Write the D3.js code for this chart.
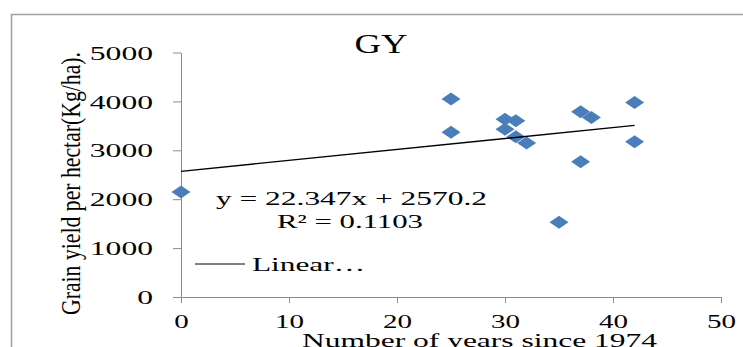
<!DOCTYPE html>
<html>
<head>
<meta charset="utf-8">
<script src="https://cdn.jsdelivr.net/npm/d3@7"></script>
<style>
  body { margin: 0; background: #fff; }
  text { font-family: "Liberation Serif", "Times New Roman", serif; fill: #000; }
</style>
</head>
<body>
<div id="chart"></div>
<script>
// Data
const years = [0, 25, 25, 30, 30, 31, 31, 32, 35, 37, 38, 37, 42, 42];
const yields = [2145, 4050, 3370, 3634, 3430, 3606, 3276, 3150, 1527, 3790, 3670, 2767, 3980, 3176];
const trendCoef = { slope: 22.347, intercept: 2570.2 };
const trendRange = [0, 42];
const xTicks = [0, 10, 20, 30, 40, 50];
const yTicks = [0, 1000, 2000, 3000, 4000, 5000];

const width = 743;
const height = 347;

const svg = d3.select("#chart")
    .append("svg")
    .attr("width", width)
    .attr("height", height);

// Outer frame (cropped on the right and bottom)
svg.append("rect")
    .attr("x", 11.5).attr("y", 14.5)
    .attr("width", 760).attr("height", 340)
    .attr("fill", "none")
    .attr("stroke", "#a0a0a0")
    .attr("stroke-width", 1.5);

const x = d3.scaleLinear().domain([0, 50]).range([181, 721]);
const y = d3.scaleLinear().domain([0, 5000]).range([297, 52.5]);

// Axes
const yAxis = svg.append("g")
    .attr("transform", "translate(181,0)")
    .call(d3.axisLeft(y).tickValues(yTicks).tickSize(8).tickSizeOuter(0).tickFormat(d3.format("d")));
yAxis.selectAll("text")
    .attr("x", -28)
    .attr("dy", "0.35em")
    .style("font-size", "19px")
    .attr("textLength", d => String(d).length * 15.8)
    .attr("lengthAdjust", "spacingAndGlyphs");

const xAxis = svg.append("g")
    .attr("transform", "translate(0,297)")
    .call(d3.axisBottom(x).tickValues(xTicks).tickSize(6).tickSizeOuter(0).tickFormat(d3.format("d")));
xAxis.selectAll("text")
    .attr("y", 31)
    .attr("dy", 0)
    .style("font-size", "19px")
    .attr("textLength", d => String(d).length * 14.5)
    .attr("lengthAdjust", "spacingAndGlyphs");

svg.selectAll(".domain, .tick line")
    .attr("stroke", "#8c8c8c")
    .attr("stroke-width", 1);

// Points (wide diamonds)
const diamond = "M-9.5,0L0,-6.5L9.5,0L0,6.5Z";
svg.selectAll(".dot")
    .data(years.map((yr, i) => ({ yr: yr, v: yields[i] })))
    .enter()
    .append("path")
    .attr("class", "dot")
    .attr("d", diamond)
    .attr("transform", d => `translate(${x(d.yr)},${y(d.v)})`)
    .attr("fill", "#4a7ebb");

// Linear trend line
svg.append("line")
    .attr("x1", x(trendRange[0]))
    .attr("y1", y(trendCoef.intercept + trendCoef.slope * trendRange[0]))
    .attr("x2", x(trendRange[1]))
    .attr("y2", y(trendCoef.intercept + trendCoef.slope * trendRange[1]))
    .attr("stroke", "#000")
    .attr("stroke-width", 1.3);

// Title
svg.append("text")
    .attr("x", 381).attr("y", 53)
    .attr("text-anchor", "middle")
    .style("font-size", "27px")
    .attr("textLength", 53)
    .attr("lengthAdjust", "spacingAndGlyphs")
    .text("GY");

// Equation labels
svg.append("text")
    .attr("x", 216).attr("y", 205)
    .style("font-size", "19px")
    .attr("textLength", 271)
    .attr("lengthAdjust", "spacingAndGlyphs")
    .text("y = 22.347x + 2570.2");

svg.append("text")
    .attr("x", 277).attr("y", 228)
    .style("font-size", "19px")
    .attr("textLength", 146)
    .attr("lengthAdjust", "spacingAndGlyphs")
    .text("R² = 0.1103");

// Legend
svg.append("line")
    .attr("x1", 195).attr("x2", 245)
    .attr("y1", 264).attr("y2", 264)
    .attr("stroke", "#000")
    .attr("stroke-width", 1);

svg.append("text")
    .attr("x", 252).attr("y", 271)
    .style("font-size", "19px")
    .attr("textLength", 113)
    .attr("lengthAdjust", "spacingAndGlyphs")
    .text("Linear…");

// Axis titles
svg.append("text")
    .attr("x", 302).attr("y", 347)
    .style("font-size", "19px")
    .attr("textLength", 355)
    .attr("lengthAdjust", "spacingAndGlyphs")
    .text("Number of years since 1974");

svg.append("text")
    .attr("transform", "translate(80,183.5) rotate(-90)")
    .attr("text-anchor", "middle")
    .style("font-size", "28px")
    .attr("textLength", 263)
    .attr("lengthAdjust", "spacingAndGlyphs")
    .text("Grain yield per hectar(Kg/ha).");
</script>
</body>
</html>
